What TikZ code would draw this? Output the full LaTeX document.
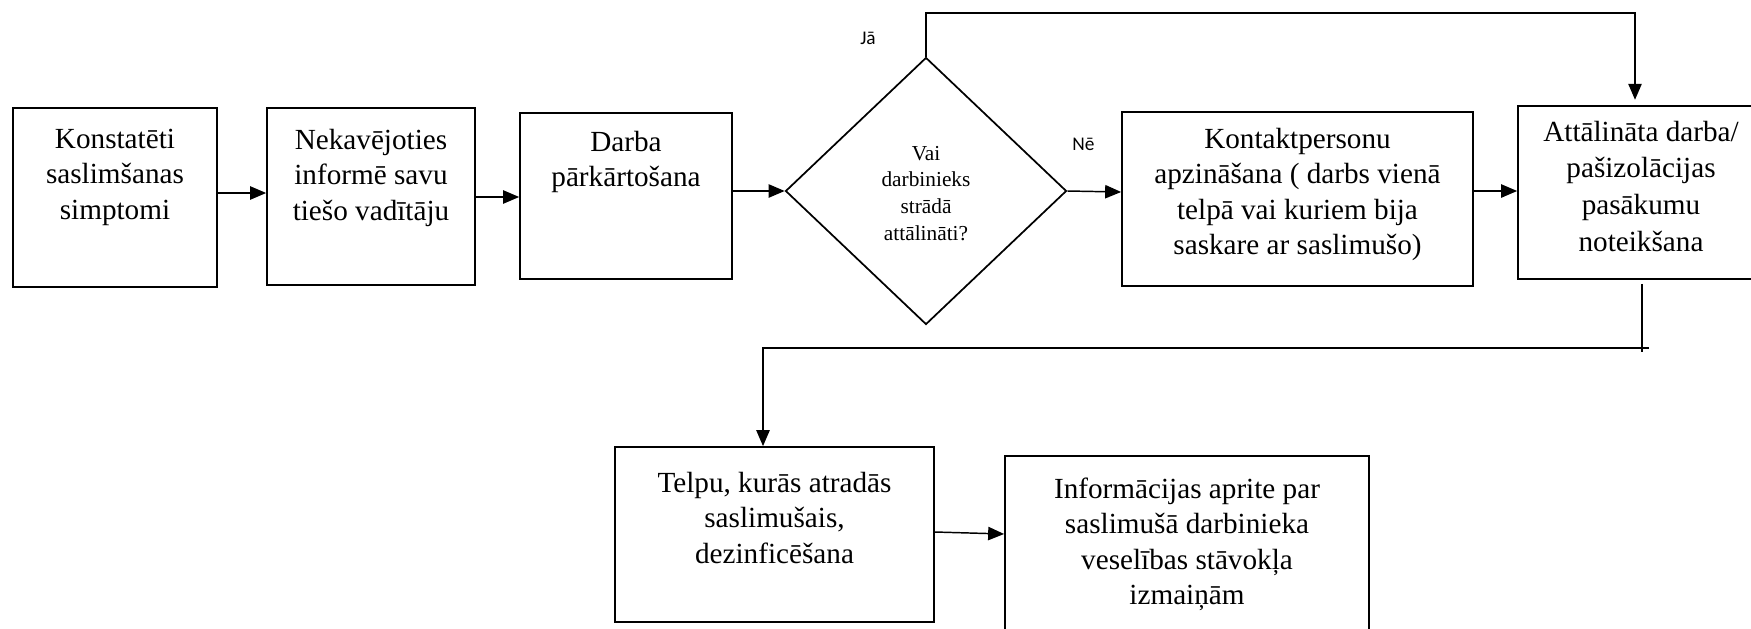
\documentclass[tikz,border=0pt]{standalone}
\usepackage{fontspec}
\setmainfont{Liberation Serif}
\newfontfamily\labfont{Carlito}
\usetikzlibrary{shapes.geometric,arrows.meta}
\newcommand{\pxu}{*0.75pt}
\newcommand{\fst}{\rule{0pt}{17.5pt}}
\newcommand{\dst}{\rule{0pt}{12.8pt}}
\begin{document}
\begin{tikzpicture}[x=0.75pt,y=-0.75pt,
  box/.style={draw, line width=1.3pt, rectangle, inner sep=0pt},
  dia/.style={draw, line width=1.3pt, diamond, inner sep=0pt},
  txt/.style={anchor=north, inner sep=0pt, align=center, font=\fontsize{21.9pt}{26.6pt}\selectfont},
  dtxt/.style={anchor=north, inner sep=0pt, align=center, font=\fontsize{16pt}{20pt}\selectfont},
  lab/.style={anchor=base, inner sep=0pt, font=\labfont\fontsize{14.5pt}{17pt}\selectfont},
  arr/.style={line width=1.1pt, -{Triangle[length=12pt,width=10pt]}},
  ln/.style={line width=1.1pt}]
\clip (0,0) rectangle (1751,628);
\fill[white] (0,0) rectangle (1751,628);

% boxes
\node[box, minimum width=204\pxu, minimum height=179\pxu] (b1) at (115,197.5) {};
\node[box, minimum width=208\pxu, minimum height=177\pxu] (b2) at (371,196.5) {};
\node[box, minimum width=212\pxu, minimum height=166\pxu] (b3) at (626,196) {};
\node[dia, minimum width=281\pxu, minimum height=267\pxu] (d) at (926,191) {};
\node[box, minimum width=351\pxu, minimum height=174\pxu] (b5) at (1297.5,199) {};
\node[box, minimum width=246\pxu, minimum height=173\pxu] (b6) at (1641,192.5) {};
\node[box, minimum width=319\pxu, minimum height=175\pxu] (b7) at (774.5,534.5) {};
\node[box, minimum width=364\pxu, minimum height=204\pxu] (b8) at (1187,558) {};

% texts
\node[txt] (t1) at (115,124.7) {\fst Konstatēti\\saslimšanas\\simptomi};
\node[txt] (t2) at (371,125.7) {\fst Nekavējoties\\informē savu\\tiešo vadītāju};
\node[txt] (t3) at (626,127.7) {\fst Darba\\pārkārtošana};
\node[dtxt] (td) at (926,142.9) {\dst Vai\\darbinieks\\strādā\\attālināti?};
\node[txt] (t5) at (1297.5,124.7) {\fst Kontaktpersonu\\apzināšana ( darbs vienā\\telpā vai kuriem bija\\saskare ar saslimušo)};
\node[txt, font=\fontsize{21.9pt}{27.5pt}\selectfont] (t6) at (1641,117.7) {\fst Attālināta darba/\\pašizolācijas\\pasākumu\\noteikšana};
\node[txt] (t7) at (774.5,468.7) {\fst Telpu, kurās atradās\\saslimušais,\\dezinficēšana};
\node[txt] (t8) at (1187,474.7) {\fst Informācijas aprite par\\saslimušā darbinieka\\veselības stāvokļa\\izmaiņām};

% labels
\node[lab] (ja) at (868,44) {Jā};
\node[lab] (ne) at (1083.5,150) {Nē};

% coordinates
\coordinate (c1) at (926,13);
\coordinate (c2) at (1635,13);
\coordinate (c3) at (1642,352);
\coordinate (c4) at (763,348);
\coordinate (c5) at (1649,348);

% connectors
\draw[arr] (b1.east |- 0,193) -- (b2.west |- 0,193);
\draw[arr] (b2.east |- 0,197) -- (b3.west |- 0,197);
\draw[arr] (b3.east |- 0,191) -- (d.west);
\draw[arr] (d.east) -- (b5.west |- 0,192);
\draw[arr] (b5.east |- 0,191) -- (b6.west |- 0,191);
\draw[arr, shorten >=4pt] (d.north) -- (c1) -- (c2) -- (c2 |- b6.north);
\draw[ln, shorten <=3pt] (b6.south -| c3) -- (c3);
\draw[arr] (c5) -- (c4) -- (c4 |- b7.north);
\draw[arr] (b7.east |- 0,532) -- (b8.west |- 0,534);
\end{tikzpicture}
\end{document}
